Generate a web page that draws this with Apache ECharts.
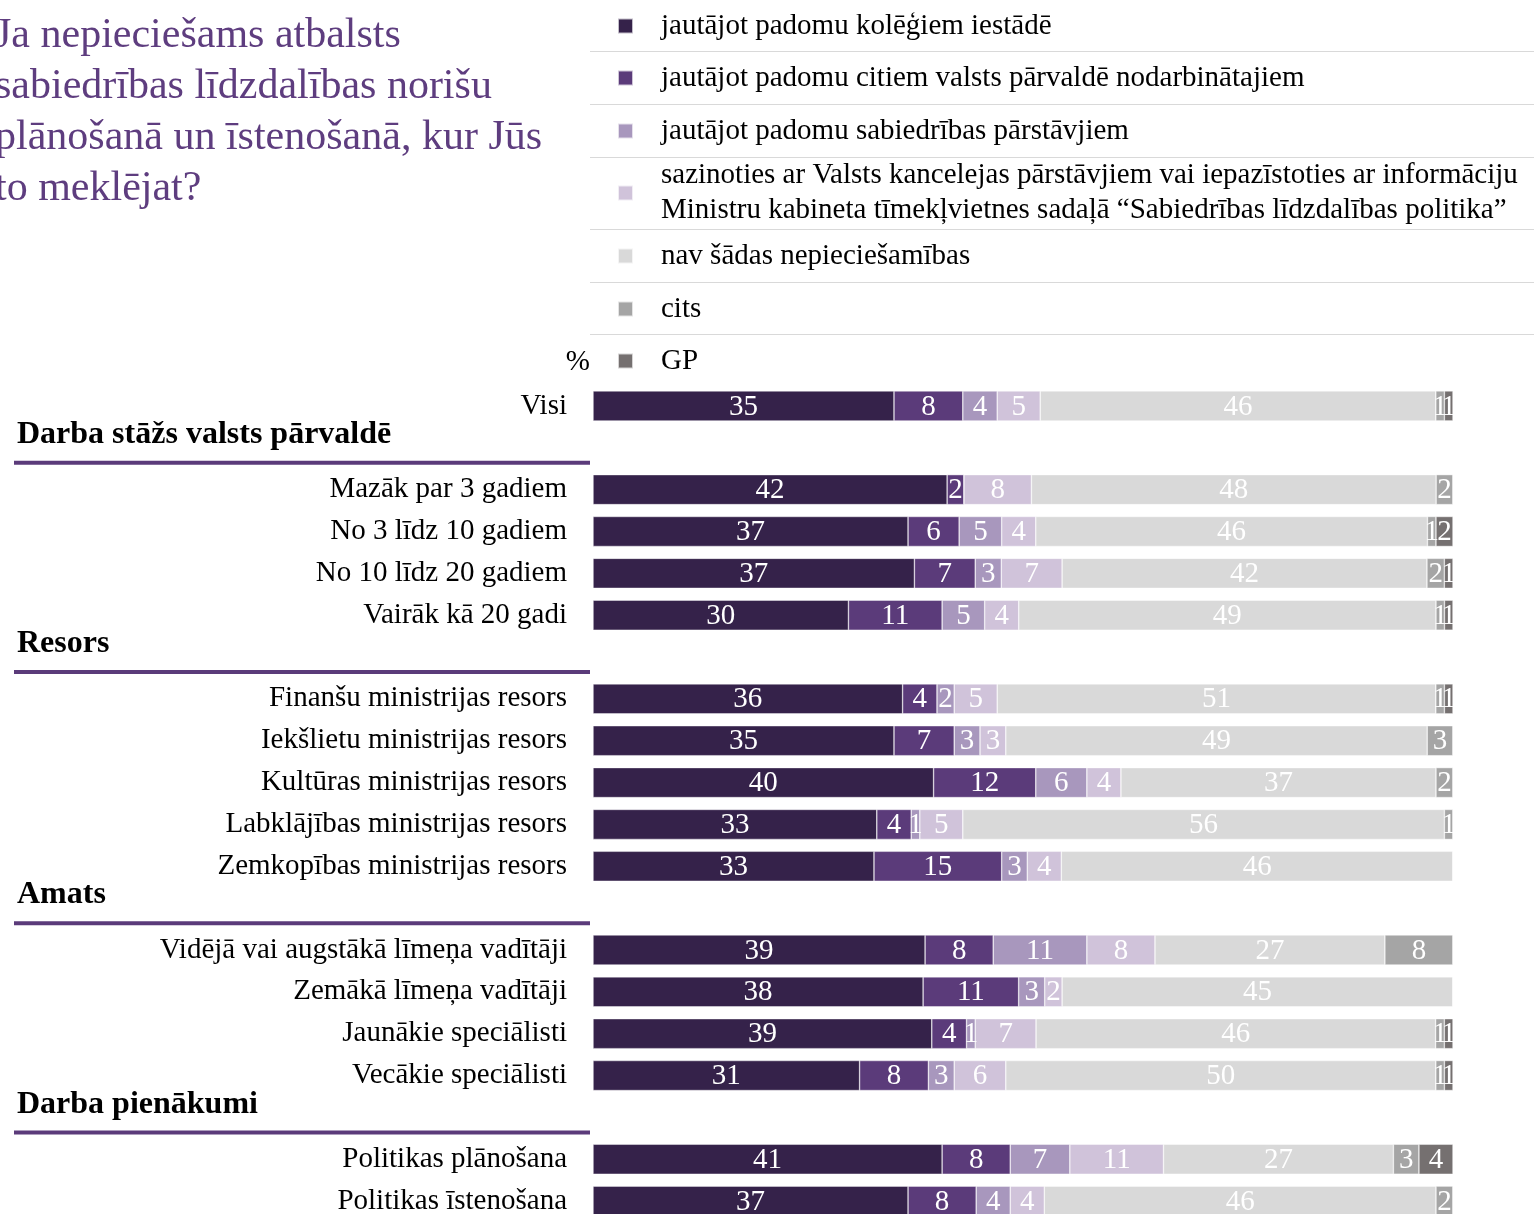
<!DOCTYPE html>
<html>
<head>
<meta charset="utf-8">
<script src="https://cdn.jsdelivr.net/npm/echarts@6/dist/echarts.min.js"></script>
<style>html,body{margin:0;padding:0;background:#fff}#c{width:1534px;height:1214px}</style>
</head>
<body>
<div id="c"></div>
<script>
const categories = ['Visi','Darba stāžs valsts pārvaldē','Mazāk par 3 gadiem','No 3 līdz 10 gadiem','No 10 līdz 20 gadiem','Vairāk kā 20 gadi','Resors','Finanšu ministrijas resors','Iekšlietu ministrijas resors','Kultūras ministrijas resors','Labklājības ministrijas resors','Zemkopības ministrijas resors','Amats','Vidējā vai augstākā līmeņa vadītāji','Zemākā līmeņa vadītāji','Jaunākie speciālisti','Vecākie speciālisti','Darba pienākumi','Politikas plānošana','Politikas īstenošana'];
const groupHeaders = ['Darba stāžs valsts pārvaldē','Resors','Amats','Darba pienākumi'];

const seriesNames = [
  'jautājot padomu kolēģiem iestādē',
  'jautājot padomu citiem valsts pārvaldē nodarbinātajiem',
  'jautājot padomu sabiedrības pārstāvjiem',
  'sazinoties ar Valsts kancelejas pārstāvjiem vai iepazīstoties ar informāciju\nMinistru kabineta tīmekļvietnes sadaļā “Sabiedrības līdzdalības politika”',
  'nav šādas nepieciešamības',
  'cits',
  'GP'
];
const kolegi  = [35,null,42,37,37,30,null,36,35,40,33,33,null,39,38,39,31,null,41,37];
const citi    = [8,null,2,6,7,11,null,4,7,12,4,15,null,8,11,4,8,null,8,8];
const sabiedr = [4,null,0,5,3,5,null,2,3,6,1,3,null,11,3,1,3,null,7,4];
const vk      = [5,null,8,4,7,4,null,5,3,4,5,4,null,8,2,7,6,null,11,4];
const nav     = [46,null,48,46,42,49,null,51,49,37,56,46,null,27,45,46,50,null,27,46];
const cits    = [1,null,2,1,2,1,null,1,3,2,1,0,null,8,0,1,1,null,3,2];
const gp      = [1,null,0,2,1,1,null,1,0,0,0,0,null,0,0,1,1,null,4,0];

const titleLines = ['Ja nepiecieššams atbalsts'.replace('ieššams','iešams'),'sabiedrības līdzdalības norišu','plānošanā un īstenošanā, kur Jūs','to meklējat?'];

const colors = ['#35224a','#5b3b7a','#a897bd','#d0c3da','#d9d9d9','#a5a5a5','#757070'];
const FONT = '"Liberation Serif", "DejaVu Serif", serif';
const FS = 29;

const allSeries = [kolegi,citi,sabiedr,vk,nav,cits,gp];
const totals = categories.map((c,i)=>{
  let s=0; let any=false;
  allSeries.forEach(a=>{ if(a[i]!=null){s+=a[i];any=true;} });
  return any ? s : null;
});

const chart = echarts.init(document.getElementById('c'), null, {renderer:'canvas'});

const legendCenters = [26,78,131,193,256,309,361];
const legends = seriesNames.map((n,i)=>{
  const lines = n.split('\n').length;
  const lh = lines>1 ? 35 : 32;
  const h = lh*lines;
  return {
    data:[n], left:617, top: legendCenters[i]-h/2, padding:0,
    icon:'rect', itemWidth:15, itemHeight:15, selectedMode:true,
    textStyle:{fontFamily:FONT, fontSize:FS, color:'#000', lineHeight:lh, padding:[0,0,0,23]}
  };
});

const series = seriesNames.map((n,si)=>({
  name:n, type:'bar', stack:'all', barWidth:30,
  itemStyle:{color:colors[si], borderColor:'rgba(255,255,255,0.7)', borderWidth:0.6},
  label:{show:true, position:'inside', color:'#fff', fontFamily:FONT, fontSize:FS, offset:[0,1],
    formatter:(p)=>{ const v = allSeries[si][p.dataIndex]; return (v==null||v===0)?'':String(v); }},
  data: allSeries[si].map((v,i)=> v==null ? null : v/totals[i]*100)
}));

const option = {
  animation:false,
  backgroundColor:'#fff',
  title:{
    text: titleLines.join('\n'), left:-10, top:5,
    textStyle:{fontFamily:FONT, fontSize:42, fontWeight:'normal', color:'#5e3d7f', lineHeight:51}
  },
  legend: legends,
  grid:{left:593, right:81, top:385, height:837, containLabel:false, outerBoundsMode:'none'},
  xAxis:{type:'value', min:0, max:100, show:false},
  yAxis:{type:'category', data:categories, inverse:true,
    axisLine:{show:false}, axisTick:{show:false}, splitLine:{show:false},
    axisLabel:{margin:26, fontFamily:FONT, fontSize:FS, color:'#000',
      formatter:(v)=> groupHeaders.includes(v) ? '' : v}},
  series
};
chart.setOption(option);

function drawExtras(){
  const els = [];
  [51,104,157,229,282,334].forEach(y=>{
    els.push({type:'line', shape:{x1:590,y1:y+0.5,x2:1534,y2:y+0.5}, style:{stroke:'#d9d9d9', lineWidth:1}, silent:true});
  });
  els.push({type:'text', x:590, y:362, style:{text:'%', fontFamily:FONT, fontSize:FS, fill:'#000', align:'right', verticalAlign:'middle'}, silent:true});
  groupHeaders.forEach(h=>{
    const y = chart.convertToPixel({yAxisIndex:0}, h);
    els.push({type:'text', x:17, y:y-13, style:{text:h, fontFamily:FONT, fontSize:32, fontWeight:'bold', fill:'#000', verticalAlign:'middle'}, silent:true});
    els.push({type:'rect', shape:{x:14, y:y+13, width:576, height:4}, style:{fill:'#5b3b7a'}, silent:true});
  });
  chart.setOption({graphic:{elements:els}});
}
drawExtras();
</script>
</body>
</html>
